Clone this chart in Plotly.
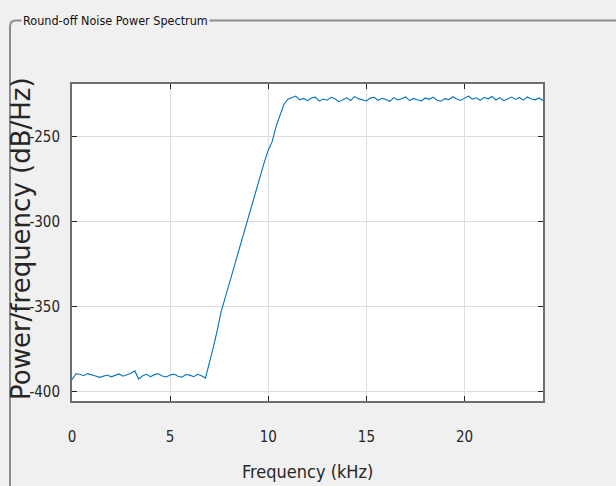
import plotly.graph_objects as go

# Frequency bins (kHz), 0.2 kHz spacing from 0 to 24 kHz
freq_khz = [round(0.2 * i, 1) for i in range(121)]

# Round-off noise PSD (dB/Hz): flat floor up to ~7 kHz
psd_floor = [
    -393.0, -389.5, -389.8, -390.6, -389.4, -389.9, -390.8, -391.6, -391.0, -390.2,
    -391.3, -390.5, -389.6, -390.9, -390.1, -389.2, -387.8, -392.6, -390.7, -389.8,
    -391.2, -390.0, -389.5, -390.8, -391.4, -390.2, -389.7, -390.9, -391.5, -389.9,
    -390.3, -391.2, -389.8, -390.6, -392.0,
]
# transition band 7.0 - 11.0 kHz
psd_rise = [
    -383.5, -374.0, -364.0, -353.0, -345.0, -337.0, -329.0, -321.0, -313.0, -304.0,
    -296.0, -288.0, -281.0, -272.0, -265.0, -258.0, -253.0, -244.0, -237.0, -231.0,
    -228.0,
]
# shaped noise plateau 11.2 - 24.0 kHz
psd_plateau = [
    -227.0, -226.2, -228.4, -227.6, -228.9, -227.3, -226.8, -229.2, -227.9, -228.6,
    -226.9, -227.8, -229.5, -228.1, -227.2, -228.8, -226.5, -227.7, -228.3, -229.1,
    -227.4, -226.9, -228.7, -227.5, -228.2, -229.3, -227.1, -228.5, -227.8, -226.7,
    -228.9, -227.6, -228.4, -229.0, -227.3, -228.1, -226.8, -228.6, -229.2, -227.7,
    -228.3, -226.6, -227.9, -228.8, -227.4, -226.3, -228.0, -227.2, -228.7, -226.9,
    -227.8, -226.4, -228.5, -227.1, -228.9, -227.6, -226.8, -228.2, -227.0, -228.6,
    -226.7, -227.9, -228.4, -227.3, -228.8,
]
psd_db = psd_floor + psd_rise + psd_plateau

x_ticks = [0, 5, 10, 15, 20]
y_ticks = [-400, -350, -300, -250]
y_tick_text = ["-400", "-350", "-300", "-250"]

W, H = 616, 486
ML, MR, MT, MB = 72, 73, 84, 85
PW, PH = W - ML - MR, H - MT - MB

FONT = "Liberation Sans Narrow, DejaVu Sans Condensed, Liberation Sans, Arial, sans-serif"
AX_COLOR = "#262626"
BOX_COLOR = "#6e6e6e"
GRID_COLOR = "#dedede"


def px_x(px):
    return (px - ML) / PW


def px_y(py):
    return (H - MB - py) / PH


fig = go.Figure()
fig.add_trace(go.Scatter(
    x=freq_khz, y=psd_db, mode="lines",
    line=dict(color="#0072BD", width=1.1),
    hoverinfo="skip", showlegend=False,
))

axis_common = dict(
    ticks="inside", ticklen=5, tickwidth=1, tickcolor=AX_COLOR,
    showline=True, linecolor=BOX_COLOR, linewidth=2, mirror="ticks",
    showgrid=True, gridcolor=GRID_COLOR, gridwidth=1, zeroline=False,
    tickfont=dict(family=FONT, size=15, color=AX_COLOR),
    fixedrange=True,
)

fig.update_xaxes(range=[0, 24], tickvals=x_ticks, ticklabelstandoff=21, **axis_common)
fig.update_yaxes(range=[-405.5, -219.1], tickvals=y_ticks, ticktext=y_tick_text,
                 ticklabelstandoff=7, **axis_common)

# panel frame with rounded top-left corner
x0, y0, r = px_x(10), px_y(20.5), 6
path = (f"M {px_x(10)},{px_y(H + 5)} L {x0},{px_y(20.5 + r)} "
        f"Q {x0},{y0} {px_x(10 + r)},{y0} L {px_x(W + 5)},{y0}")
fig.add_shape(type="path", path=path, xref="paper", yref="paper",
              line=dict(color="#8c8c8c", width=2), layer="above")

annotations = [
    dict(text="Round-off Noise Power Spectrum", xref="paper", yref="paper",
         x=px_x(21), y=px_y(20.5), xanchor="left", yanchor="middle",
         showarrow=False, bgcolor="#f0f0f0", borderpad=1,
         font=dict(family=FONT, size=12.5, color="#111111")),
    dict(text="Frequency (kHz)", xref="paper", yref="paper",
         x=0.5, y=px_y(471), xanchor="center", yanchor="middle",
         showarrow=False, font=dict(family=FONT, size=18, color=AX_COLOR)),
    dict(text="Power/frequency (dB/Hz)", xref="paper", yref="paper",
         x=px_x(21), y=px_y(239), xanchor="center", yanchor="middle", textangle=-90,
         showarrow=False, font=dict(family="DejaVu Sans, sans-serif", size=26, color=AX_COLOR)),
]

fig.update_layout(
    width=W, height=H,
    margin=dict(l=ML, r=MR, t=MT, b=MB, autoexpand=False),
    paper_bgcolor="#f0f0f0", plot_bgcolor="#ffffff",
    annotations=annotations,
    showlegend=False,
)

fig.write_html("out.html", config={"displayModeBar": False, "staticPlot": True})
